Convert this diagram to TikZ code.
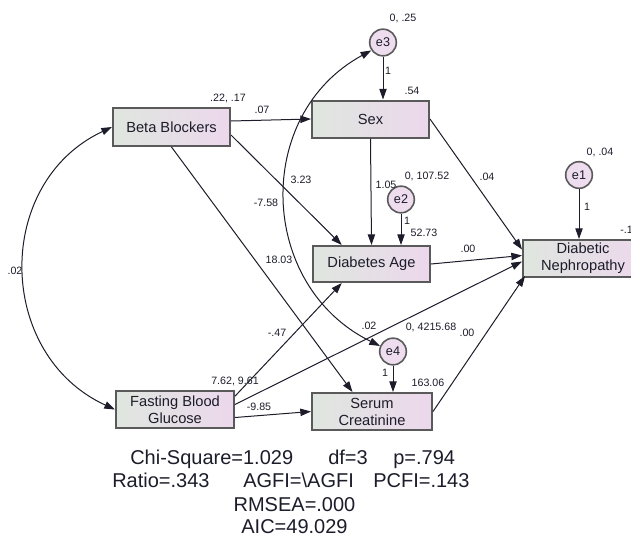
\documentclass[tikz,border=0pt]{standalone}
\usepackage{fontspec}
\setmainfont{Liberation Sans}
\usepackage{tikz}
\usetikzlibrary{
    arrows.meta,
    calc,
    positioning
}
\definecolor{boxleft}{HTML}{DFE6DF}
\definecolor{boxright}{HTML}{ECD8EC}
\definecolor{boxedge}{HTML}{5A5A5A}
\definecolor{errfill}{HTML}{EEDDEE}
\definecolor{inkdark}{HTML}{1C1C2A}

\begin{document}
\begin{tikzpicture}[
    x=0.75pt, y=-0.75pt,
    var/.style={draw=boxedge, line width=1.5pt, left color=boxleft, right color=boxright, minimum height=27.75pt, align=center, inner sep=1pt, text=inkdark, font=\fontsize{11}{12.75}\selectfont},
    err/.style={circle, draw=boxedge, line width=1.2pt, fill=errfill, minimum size=20pt, inner sep=0pt, text=inkdark, font=\fontsize{9.5}{10}\selectfont},
    est/.style={inner sep=0pt, text=inkdark, font=\fontsize{8}{9}\selectfont},
    stat/.style={inner sep=0pt, anchor=base west, text=inkdark, font=\fontsize{15}{18}\selectfont},
    reg/.style={-{Triangle[length=8pt,width=5.5pt]}, line width=0.75pt, inkdark},
    cov/.style={{Triangle[length=8pt,width=5.5pt]}-{Triangle[length=8pt,width=5.5pt]}, line width=0.75pt, inkdark},
]
    \useasboundingbox (0,0) rectangle (631,536);

    % Observed variables
    \node[var, minimum width=87.75pt, minimum height=28.5pt] (bb) at (171.5,127) {Beta Blockers};
    \node[var, minimum width=87.75pt] (sex) at (370.5,119) {Sex};
    \node[var, minimum width=87.75pt, minimum height=27pt] (dage) at (371.5,264) {Diabetes Age};
    \node[var, minimum width=90pt] (dn) at (583,258.5) {Diabetic\\Nephropathy};
    \node[var, minimum width=88.5pt] (fbg) at (175,409.5) {Fasting Blood\\Glucose};
    \node[var, minimum width=90pt] (scr) at (372,411.5) {Serum\\Creatinine};

    % Error terms
    \node[err] (e3) at (383,42.5) {e3};
    \node[err] (e2) at (401,199.5) {e2};
    \node[err] (e1) at (579,175) {e1};
    \node[err] (e4) at (393,351.5) {e4};

    % Regression paths
    \draw[reg] ([yshift=4.5pt]bb.east) -- (sex.west);
    \draw[reg] ([yshift=-6pt]bb.east) -- ($(dage.north west)!0.25!(dage.north east)$);
    \draw[reg] (bb.south) -- ($(scr.north west)!0.34!(scr.north east)$);
    \draw[reg] (sex.south) -- (dage.north);
    \draw[reg] (sex.east) -- ($(dn.west)+(0,-9)$);
    \draw[reg] (dage.east) -- ($(dn.west)+(0,-3)$);
    \draw[reg] ([yshift=10pt]fbg.east) -- ($(dage.south west)!0.25!(dage.south east)$);
    \draw[reg] ([yshift=3.75pt]fbg.east) -- ($(dn.west)+(0,3)$);
    \draw[reg] ([yshift=-6pt]fbg.east) -- (scr.west);
    \draw[reg] (scr.east) -- ($(dn.south west)+(3,-2)$);

    % Error paths
    \draw[reg] (e3) -- (e3 |- sex.north);
    \draw[reg] (e2) -- (e2 |- dage.north);
    \draw[reg] (e1) -- (e1 |- dn.north);
    \draw[reg] (e4) -- (e4 |- scr.north);

    % Covariances
    \draw[cov] (bb.west) .. controls (-7,183) and (-4,355) .. (fbg.west);
    \draw[cov] (e3.214) .. controls (252.5,115) and (258,286) .. (e4.157);

    % Estimates
    \node[est] (bbmv) at (228,98) {.22, .17};
    \node[est] (bbsex) at (262,110) {.07};
    \node[est] (e3mv) at (403,18) {0, .25};
    \node[est] (e3sex) at (388,71) {1};
    \node[est] (sexint) at (412,91) {.54};
    \node[est] (bbdage) at (301,180) {3.23};
    \node[est] (e3e4) at (266,203) {-7.58};
    \node[est] (sexdage) at (386,185) {1.05};
    \node[est] (e2mv) at (427,176) {0, 107.52};
    \node[est] (sexdn) at (487,177) {.04};
    \node[est] (e1mv) at (600,152) {0, .04};
    \node[est] (e1dn) at (587,207) {1};
    \node[est, anchor=west] (dnint) at (620,230) {-.1};
    \node[est] (e2dage) at (407,221) {1};
    \node[est] (dageint) at (424,233) {52.73};
    \node[est] (bbscr) at (279,260) {18.03};
    \node[est] (dagedn) at (468,249) {.00};
    \node[est] (bbfbg) at (15,271) {.02};
    \node[est] (fbgdage) at (277,333) {-.47};
    \node[est] (fbgdn) at (369,326) {.02};
    \node[est] (e4mv) at (431,327) {0, 4215.68};
    \node[est] (scrdn) at (467,333) {.00};
    \node[est] (fbgmv) at (235,381) {7.62, 9.61};
    \node[est] (fbgscr) at (259,407) {-9.85};
    \node[est] (e4scr) at (385,373) {1};
    \node[est] (scrint) at (428,383) {163.06};

    % Fit indices
    \node[stat] (chisq) at (130,464) {Chi-Square=1.029};
    \node[stat] (df) at (328,464) {df=3};
    \node[stat] (pval) at (393,464) {p=.794};
    \node[stat] (ratio) at (112,487) {Ratio=.343};
    \node[stat] (agfi) at (243,487) {AGFI=\textbackslash AGFI};
    \node[stat] (pcfi) at (373,487) {PCFI=.143};
    \node[stat, anchor=base] (rmsea) at (294.5,511) {RMSEA=.000};
    \node[stat, anchor=base] (aic) at (294.5,533) {AIC=49.029};

\end{tikzpicture}
\end{document}
